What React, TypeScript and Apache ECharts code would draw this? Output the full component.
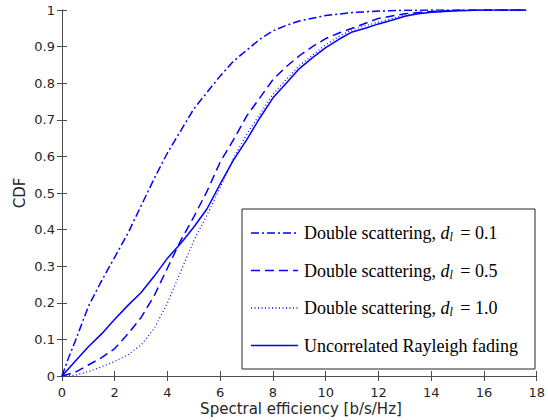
import React, { useEffect, useRef } from "react";
import * as echarts from "echarts";

const ddX01 = [0, 0.25, 0.5, 1, 1.5, 2, 2.5, 3, 3.5, 4, 4.5, 5, 5.5, 6, 6.5, 7, 7.5, 8, 8.5, 9, 10, 11, 12, 13, 14, 16, 17.6];
const ddY01 = [0, 0.05, 0.095, 0.19, 0.26, 0.325, 0.39, 0.465, 0.54, 0.61, 0.67, 0.73, 0.775, 0.82, 0.86, 0.89, 0.92, 0.943, 0.958, 0.97, 0.985, 0.993, 0.997, 0.999, 1, 1, 1];

const dsX05 = [0, 0.5, 1, 1.5, 2, 2.5, 3, 3.5, 4, 4.5, 5, 5.5, 6, 6.5, 7, 7.5, 8, 8.5, 9, 9.5, 10, 10.5, 11, 12, 13, 14, 15, 16, 17.6];
const dsY05 = [0, 0.01, 0.03, 0.05, 0.075, 0.115, 0.16, 0.22, 0.295, 0.37, 0.435, 0.505, 0.585, 0.645, 0.71, 0.76, 0.81, 0.845, 0.875, 0.9, 0.922, 0.937, 0.95, 0.977, 0.99, 0.996, 0.999, 1, 1];

const dsX10 = [0, 0.5, 1, 1.5, 2, 2.5, 3, 3.5, 4, 4.5, 5, 5.5, 6, 6.5, 7, 7.5, 8, 8.5, 9, 9.5, 10, 10.5, 11, 11.5, 12, 13, 14, 15, 16, 17.6];
const dsY10 = [0, 0.002, 0.012, 0.025, 0.04, 0.058, 0.085, 0.13, 0.2, 0.285, 0.37, 0.44, 0.515, 0.595, 0.66, 0.715, 0.77, 0.81, 0.848, 0.877, 0.905, 0.928, 0.946, 0.957, 0.967, 0.986, 0.994, 0.998, 1, 1];

const rayX = [0, 0.5, 1, 1.5, 2, 2.5, 3, 3.5, 4, 4.5, 5, 5.5, 6, 6.5, 7, 7.5, 8, 8.5, 9, 9.5, 10, 10.5, 11, 11.5, 12, 12.5, 13, 13.5, 14, 15, 16, 17.6];
const rayY = [0, 0.04, 0.08, 0.115, 0.155, 0.193, 0.228, 0.273, 0.322, 0.362, 0.407, 0.457, 0.525, 0.59, 0.645, 0.705, 0.76, 0.8, 0.84, 0.87, 0.897, 0.92, 0.94, 0.95, 0.962, 0.972, 0.983, 0.99, 0.994, 0.998, 1, 1];

const legendLabels = [
  ["Double scattering, ", "0.1"],
  ["Double scattering, ", "0.5"],
  ["Double scattering, ", "1.0"],
  ["Uncorrelated Rayleigh fading", ""],
];
const xTitle = "Spectral efficiency [b/s/Hz]";
const yTitle = "CDF";

const BLUE = "#0000ff";
const dashDot = [8, 3, 2, 3];
const dashed = [9, 5];
const dotted = [1, 2.5];

function zip(xs: number[], ys: number[]) {
  return xs.map((x, i) => [x, ys[i]]);
}

export default function App() {
  const ref = useRef<HTMLDivElement>(null);
  useEffect(() => {
    if (!ref.current) return;
    const chart = echarts.init(ref.current, null, { renderer: "svg" });
    const axisLine = { show: true, lineStyle: { color: "#4d4d4d", width: 1 } };
    const tickStyle = { show: true, inside: true, length: 5, lineStyle: { color: "#4d4d4d", width: 1 } };
    const labelStyle = { color: "#262626", fontFamily: "DejaVu Sans", fontSize: 13 };
    const styles = [dashDot, dashed, dotted, "solid"];
    const legendX1 = 251, legendX2 = 298, legendTextX = 304;
    const legendYs = [233, 270.5, 308, 345.5];
    const legendGraphics: any[] = [
      {
        type: "rect",
        shape: { x: 242, y: 209, width: 293, height: 160 },
        style: { fill: "#fff", stroke: "#262626", lineWidth: 1 },
        z: 10,
      },
    ];
    legendYs.forEach((y, i) => {
      const st = styles[i];
      legendGraphics.push({
        type: "line",
        shape: { x1: legendX1, y1: y, x2: legendX2, y2: y },
        style: { stroke: BLUE, lineWidth: 1.5, lineDash: st === "solid" ? null : st },
        z: 11,
      });
      const [a, v] = legendLabels[i];
      const text = v ? `{n|${a}}{i|d}{s|l}{n| = ${v}}` : `{n|${a}}`;
      legendGraphics.push({
        type: "text",
        x: legendTextX,
        y: y,
        z: 11,
        style: {
          text,
          fill: "#000",
          verticalAlign: "middle",
          rich: {
            n: { fontFamily: "Liberation Serif", fontSize: 18, fill: "#000", lineHeight: 20 },
            i: { fontFamily: "Liberation Serif", fontSize: 18, fontStyle: "italic", fill: "#000", lineHeight: 20 },
            s: { fontFamily: "Liberation Serif", fontSize: 12, fontStyle: "italic", fill: "#000", lineHeight: 12, padding: [8, 3, 0, 0] },
          },
        },
      });
    });
    chart.setOption({
      animation: false,
      grid: { left: 62, right: 8, top: 10, bottom: 44, containLabel: false },
      xAxis: [
        {
          type: "value", min: 0, max: 18, interval: 2, position: "bottom",
          axisLine, axisTick: tickStyle, splitLine: { show: false },
          axisLabel: { ...labelStyle, margin: 10 },
        },
        {
          type: "value", min: 0, max: 18, interval: 2, position: "top",
          axisLine, axisTick: tickStyle, splitLine: { show: false },
          axisLabel: { show: false },
        },
      ],
      yAxis: [
        {
          type: "value", min: 0, max: 1, interval: 0.1, position: "left",
          axisLine, axisTick: tickStyle, splitLine: { show: false },
          axisLabel: { ...labelStyle, margin: 7 },
        },
        {
          type: "value", min: 0, max: 1, interval: 0.1, position: "right",
          axisLine, axisTick: tickStyle, splitLine: { show: false },
          axisLabel: { show: false },
        },
      ],
      series: [
        { name: "d01", type: "line", data: zip(ddX01, ddY01), symbol: "none", lineStyle: { color: BLUE, width: 1.5, type: dashDot } },
        { name: "d05", type: "line", data: zip(dsX05, dsY05), symbol: "none", lineStyle: { color: BLUE, width: 1.5, type: dashed } },
        { name: "d10", type: "line", data: zip(dsX10, dsY10), symbol: "none", lineStyle: { color: BLUE, width: 1.2, type: dotted } },
        { name: "ray", type: "line", data: zip(rayX, rayY), symbol: "none", lineStyle: { color: BLUE, width: 1.5, type: "solid" } },
      ],
      graphic: [
        ...legendGraphics,
        {
          type: "text", x: 301, y: 409,
          style: { text: xTitle, fontFamily: "DejaVu Sans", fontSize: 15, fill: "#262626", align: "center", verticalAlign: "middle" },
        },
        {
          type: "text", x: 20, y: 193, rotation: Math.PI / 2,
          style: { text: yTitle, fontFamily: "DejaVu Sans", fontSize: 15, fill: "#262626", align: "center", verticalAlign: "middle" },
        },
      ],
    });
    return () => chart.dispose();
  }, []);
  return <div ref={ref} style={{ position: "absolute", left: 0, top: 0, width: 548, height: 420 }} />;
}
